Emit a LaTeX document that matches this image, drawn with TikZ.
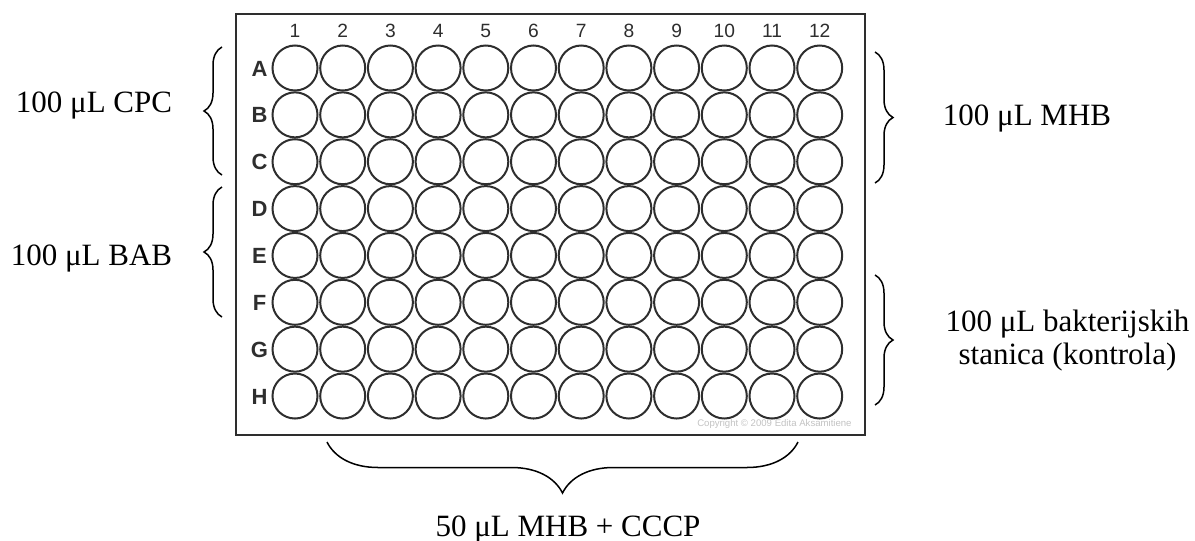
\documentclass[tikz,border=0pt]{standalone}
\usepackage{fontspec}
\setmainfont{Liberation Serif}
\setsansfont{Liberation Sans}
\usetikzlibrary{decorations.pathreplacing}
\definecolor{plateline}{HTML}{2E2E2E}
\definecolor{copygray}{HTML}{C2C2C2}
\tikzset{
  lbl/.style={font=\fontsize{15.5}{16.5}\selectfont,inner sep=0pt},
  colnum/.style={font=\sffamily\fontsize{9.6}{10}\selectfont,text=plateline,inner sep=0pt,anchor=base},
  rowlet/.style={font=\sffamily\bfseries\fontsize{11}{12}\selectfont,text=plateline,inner sep=0pt,anchor=base},
  well/.style={draw=plateline,line width=1pt},
  curly/.style={decorate,decoration={brace,amplitude=#1},line width=0.75pt}
}
\begin{document}
\begin{tikzpicture}[x=0.5pt,y=-0.5pt]
  \useasboundingbox (0,0) rectangle (1195,541);
  % plate
  \draw[plateline,line width=1.3pt] (236,14) rectangle (865,435);
  \foreach \col in {1,...,12}
    \node[colnum] (c\col) at ({295+47.7*(\col-1)},37.5) {\col};
  \foreach \row [count=\r from 0] in {A,...,H}
    \node[rowlet] (r\row) at (259.5,{76+46.86*\r}) {\row};
  \foreach \col in {0,...,11}
    \foreach \r in {0,...,7}
      \draw[well] ({295+47.7*\col},{68+46.86*\r}) circle[radius=11.25pt];
  \node[font=\sffamily\fontsize{4.8}{5}\selectfont,text=copygray,anchor=east,inner sep=0pt]
    (copy) at (852,424) {Copyright © 2009 Edita Aksamitiene};
  % braces
  \coordinate (cpcTop) at (222,47);
  \coordinate (cpcBot) at (222,175);
  \coordinate (babTop) at (222,187);
  \coordinate (babBot) at (222,317);
  \coordinate (mhbTop) at (875,52);
  \coordinate (mhbBot) at (875,183);
  \coordinate (bakTop) at (875,275);
  \coordinate (bakBot) at (875,405);
  \coordinate (cccpL) at (327,442);
  \coordinate (cccpR) at (798,442);
  \draw[curly=9pt] (cpcBot) -- (cpcTop);
  \draw[curly=9pt] (babBot) -- (babTop);
  \draw[curly=9pt] (mhbTop) -- (mhbBot);
  \draw[curly=9pt] (bakTop) -- (bakBot);
  \draw[curly=25.5pt] (cccpR) -- (cccpL);
  % labels
  \node[lbl,anchor=base] (cpc) at (94,112) {100 μL CPC};
  \node[lbl,anchor=base] (bab) at (91.5,265) {100 μL BAB};
  \node[lbl,anchor=base] (mhb) at (1027,125) {100 μL MHB};
  \node[lbl,align=center] (bak) at (1067.5,341) {100 μL bakterijskih\\stanica (kontrola)};
  \node[lbl,anchor=base] (cccp) at (568,536) {50 μL MHB + CCCP};
\end{tikzpicture}
\end{document}
